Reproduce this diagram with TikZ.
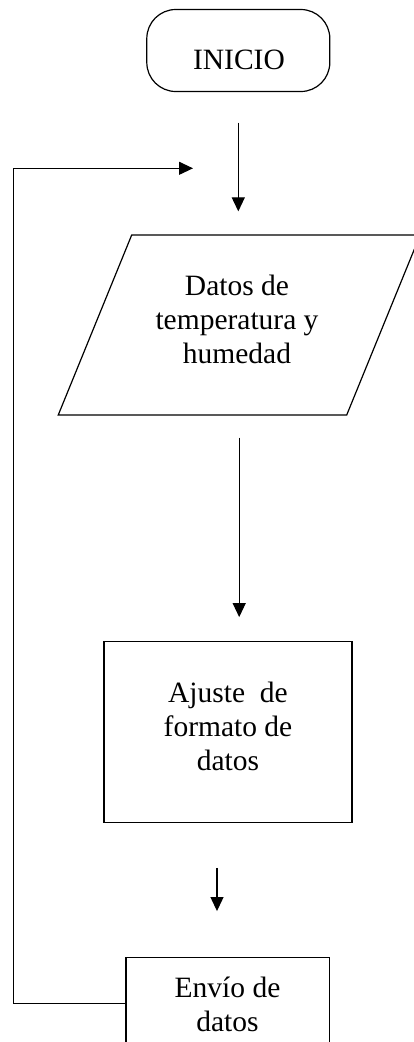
\documentclass[tikz,border=0pt]{standalone}
\usepackage{fontspec}
\setmainfont{Liberation Serif}
\usetikzlibrary{arrows.meta,shapes.geometric}
\tikzset{
	shapebox/.style={draw, line width=1.2pt, inner sep=0pt},
	label text/.style={align=center, inner sep=0pt, font=\fontsize{29.5}{34}\selectfont},
	flow/.style={line width=1.2pt, -{Triangle[length=14pt,width=13pt]}}
}

\begin{document}
\begin{tikzpicture}[x=1pt, y=-1pt]
		%%%%% START %%%%%
		\useasboundingbox (0, 0) rectangle (414, 1042);
		
		\node[shapebox, rounded corners=29pt, minimum width=183pt, minimum height=82pt] (inicio) at (238.3, 50.5) {};
		\node[label text] (inicio-t) at (239, 59.5) {INICIO};
		
		\node[shapebox, trapezium, trapezium left angle=67.8, trapezium right angle=112.2, inner xsep=107.5pt, inner ysep=90pt] (datos) at (239.2, 325) {};
		\node[label text] (datos-t) at (237, 319) {Datos de\\temperatura y\\humedad};
		
		\node[shapebox, minimum width=248pt, minimum height=180.6pt] (ajuste) at (228, 732) {};
		\node[label text] (ajuste-t) at (228, 726) {Ajuste~ de\\formato de\\datos};
		
		\node[shapebox, minimum width=203.3pt, minimum height=91.3pt] (envio) at (227.7, 1003.3) {};
		\node[label text] (envio-t) at (227.5, 1004) {Env\'{\i}o de\\datos};
		
		\coordinate (ret) at (13.3, 168.3);
		\coordinate (ret-end) at (193, 168.3);
		
		\draw[flow, shorten <=30.5pt, shorten >=23pt] (inicio.south) -- (inicio.south |- datos.north);
		\draw[flow, shorten <=22pt, shorten >=24pt] (datos.south) -- (datos.south |- ajuste.north);
		\draw[flow, shorten <=45pt, shorten >=46pt] ([xshift=-11pt]ajuste.south) -- ([xshift=-11pt]ajuste.south |- envio.north);
		\draw[flow] (envio.west) -| (ret) -- (ret-end);
		
		%%%%% END %%%%%
\end{tikzpicture}
\end{document}
